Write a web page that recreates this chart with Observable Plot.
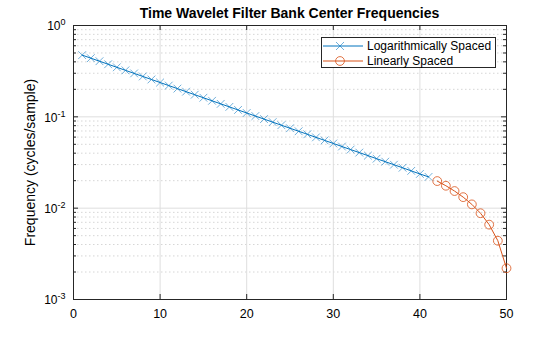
<!DOCTYPE html>
<html>
<head>
<meta charset="utf-8">
<script src="https://cdn.jsdelivr.net/npm/d3@7"></script>
<script src="https://cdn.jsdelivr.net/npm/@observablehq/plot@0.6"></script>
<style>
  html, body { margin: 0; padding: 0; background: #fff; }
  #wrap { position: relative; width: 560px; height: 337px; font-family: "Liberation Sans", Arial, Helvetica, sans-serif; }
  #title { position: absolute; left: 73px; width: 433px; top: 5px; text-align: center; font-weight: bold; font-size: 14px; color: #000; }
  #legend { position: absolute; left: 321px; top: 37px; width: 173px; height: 29px; border: 1px solid #262626; background: #fff; font-size: 12px; color: #000; }
  #legend .row { position: absolute; left: 0; height: 14px; display: flex; align-items: center; }
  #legend svg { display: block; }
</style>
</head>
<body>
<div id="wrap">
  <div id="title">Time Wavelet Filter Bank Center Frequencies</div>
</div>
<script>
// ---- data ----
const logIndex = [1,2,3,4,5,6,7,8,9,10,11,12,13,14,15,16,17,18,19,20,21,22,23,24,25,26,27,28,29,30,31,32,33,34,35,36,37,38,39,40,41];
const logFreq = [0.4740,0.4390,0.4065,0.3765,0.3486,0.3229,0.2990,0.2769,0.2564,0.2375,
                 0.2199,0.2037,0.1886,0.1747,0.1618,0.1498,0.1387,0.1285,0.1190,0.1102,
                 0.1020,0.0945,0.0875,0.0810,0.0750,0.0695,0.0644,0.0596,0.0552,0.0511,
                 0.0473,0.0438,0.0406,0.0376,0.0348,0.0323,0.0299,0.0277,0.0256,0.0237,0.0220];
const linIndex = [42,43,44,45,46,47,48,49,50];
const linFreq = [0.0198,0.0176,0.0154,0.0132,0.0110,0.0088,0.0066,0.0044,0.0022];
const seriesNames = ["Logarithmically Spaced", "Linearly Spaced"];
const seriesColors = ["#0072BD", "#D95319"];
const xTicks = [0,10,20,30,40,50];
const yTicks = [1e-3,1e-2,1e-1,1];
const yTickExp = ["-3","-2","-1","0"];
const titleText = "Time Wavelet Filter Bank Center Frequencies";
const yLabel = "Frequency (cycles/sample)";

const logData = logIndex.map((x,i)=>({x, y: logFreq[i]}));
const linData = linIndex.map((x,i)=>({x, y: linFreq[i]}));
const minorY = [];
for (const d of [1e-3,1e-2,1e-1]) for (let k=2;k<=9;k++) minorY.push(k*d);

const W = 560, H = 337, mL = 73, mR = 54, mT = 25, mB = 38;
const fW = W - mL - mR, fH = H - mT - mB;
const axisColor = "#262626";

const chart = Plot.plot({
  width: W, height: H,
  marginLeft: mL, marginRight: mR, marginTop: mT, marginBottom: mB,
  style: { fontFamily: '"Liberation Sans", Arial, Helvetica, sans-serif', fontSize: "12px", color: "#000", background: "transparent" },
  x: { domain: [0,50], axis: null },
  y: { type: "log", domain: [1e-3, 1], axis: null },
  marks: [
    Plot.ruleY(minorY, { y: d=>d, stroke: "#cccccc", strokeWidth: 0.8, strokeDasharray: "1.5,2.5" }),
    Plot.ruleY(yTicks.slice(1,-1), { y: d=>d, stroke: "#dedede", strokeWidth: 1 }),
    Plot.ruleX(xTicks.slice(1,-1), { x: d=>d, stroke: "#dedede", strokeWidth: 1 }),
    Plot.frame({ stroke: axisColor, strokeWidth: 1 }),
    // x ticks (inward), bottom & top
    Plot.tickX(xTicks, { x: d=>d, insetTop: fH-5, stroke: axisColor }),
    Plot.tickX(xTicks, { x: d=>d, insetBottom: fH-5, stroke: axisColor }),
    // y major ticks, left & right
    Plot.tickY(yTicks, { y: d=>d, insetRight: fW-5, stroke: axisColor }),
    Plot.tickY(yTicks, { y: d=>d, insetLeft: fW-5, stroke: axisColor }),
    // y minor ticks
    Plot.tickY(minorY, { y: d=>d, insetRight: fW-3, stroke: axisColor }),
    Plot.tickY(minorY, { y: d=>d, insetLeft: fW-3, stroke: axisColor }),
    // data
    Plot.line(logData, { x: "x", y: "y", stroke: seriesColors[0], strokeWidth: 1 }),
    Plot.dot(logData, { x: "x", y: "y", symbol: "times", r: 3.6, stroke: seriesColors[0], strokeWidth: 0.8, strokeOpacity: 0.7 }),
    Plot.line(linData, { x: "x", y: "y", stroke: seriesColors[1], strokeWidth: 1 }),
    Plot.dot(linData, { x: "x", y: "y", symbol: "circle", r: 4.4, stroke: seriesColors[1], strokeWidth: 1, strokeOpacity: 0.8, fill: "none" }),
    // x tick labels
    Plot.text(xTicks, { x: d=>d, frameAnchor: "bottom", dy: 18, text: d=>String(d), fontSize: 12.5, fill: "#000" }),
    // y tick labels (rewritten to superscripts below)
    Plot.text(yTicks, { y: d=>d, frameAnchor: "left", dx: -8, dy: 1, textAnchor: "end", text: (d,i)=>"10^" + yTickExp[i], fontSize: 12, fill: "#000", className: "ytl" }),
    // y label
    Plot.text([yLabel], { frameAnchor: "left", dx: -43, rotate: -90, textAnchor: "middle", text: d=>d, fontSize: 14, fill: "#000" })
  ]
});

// superscript rewrite
chart.querySelectorAll(".ytl text").forEach(t => {
  const s = t.textContent; const [base, exp] = s.split("^");
  t.textContent = "";
  const ns = "http://www.w3.org/2000/svg";
  const a = document.createElementNS(ns, "tspan"); a.textContent = base;
  const b = document.createElementNS(ns, "tspan"); b.textContent = exp;
  b.setAttribute("dy", "-5"); b.setAttribute("font-size", "9");
  t.appendChild(a); t.appendChild(b);
});

const wrap = document.getElementById("wrap");
wrap.insertBefore(chart, wrap.firstChild);
document.getElementById("title").textContent = titleText;

// legend
const legend = document.createElement("div");
legend.id = "legend";
const rowsTop = [1, 16];
seriesNames.forEach((name, i) => {
  const row = document.createElement("div");
  row.className = "row";
  row.style.top = rowsTop[i] + "px";
  const sym = i === 0
    ? `<line x1="14" y1="3" x2="22" y2="11" stroke="${seriesColors[0]}" stroke-opacity="0.7" stroke-width="0.8"/><line x1="22" y1="3" x2="14" y2="11" stroke="${seriesColors[0]}" stroke-opacity="0.7" stroke-width="0.8"/>`
    : `<circle cx="18" cy="7" r="4.4" fill="none" stroke="${seriesColors[1]}" stroke-opacity="0.8"/>`;
  row.innerHTML = `<svg width="45" height="14"><line x1="1" y1="7" x2="41" y2="7" stroke="${seriesColors[i]}" stroke-width="1"/>${sym}</svg><span>${name}</span>`;
  legend.appendChild(row);
});
wrap.appendChild(legend);
</script>
</body>
</html>
